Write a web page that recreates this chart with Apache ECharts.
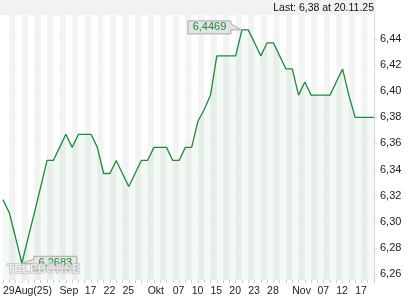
<!DOCTYPE html>
<html><head><meta charset="utf-8">
<script src="https://cdn.jsdelivr.net/npm/echarts@6/dist/echarts.min.js"></script>
<style>html,body{margin:0;padding:0;background:#fff}#c{width:420px;height:300px}</style>
</head><body><div id="c"></div>
<script>
const dates = [
 '2025-08-29',
 '2025-09-01','2025-09-02','2025-09-03','2025-09-04','2025-09-05',
 '2025-09-08','2025-09-09','2025-09-10','2025-09-11','2025-09-12',
 '2025-09-15','2025-09-16','2025-09-17','2025-09-18','2025-09-19',
 '2025-09-22','2025-09-23','2025-09-24','2025-09-25','2025-09-26',
 '2025-09-29','2025-09-30','2025-10-01','2025-10-02','2025-10-03',
 '2025-10-06','2025-10-07','2025-10-08','2025-10-09','2025-10-10',
 '2025-10-13','2025-10-14','2025-10-15','2025-10-16','2025-10-17',
 '2025-10-20','2025-10-21','2025-10-22','2025-10-23','2025-10-24',
 '2025-10-27','2025-10-28','2025-10-29','2025-10-30','2025-10-31',
 '2025-11-03','2025-11-04','2025-11-05','2025-11-06','2025-11-07',
 '2025-11-10','2025-11-11','2025-11-12','2025-11-13','2025-11-14',
 '2025-11-17','2025-11-18','2025-11-19','2025-11-20'
];
const prices = [
 6.317,
 6.307, 6.288, 6.2683, 6.288, 6.307,
 6.327, 6.347, 6.347, 6.357, 6.367,
 6.357, 6.367, 6.367, 6.367, 6.357,
 6.337, 6.337, 6.347, 6.337, 6.327,
 6.337, 6.347, 6.347, 6.357, 6.357,
 6.357, 6.347, 6.347, 6.357, 6.357,
 6.377, 6.386, 6.397, 6.427, 6.427,
 6.427, 6.427, 6.4469, 6.4469, 6.437,
 6.427, 6.437, 6.437, 6.427, 6.417,
 6.417, 6.397, 6.407, 6.397, 6.397,
 6.397, 6.397, 6.407, 6.417, 6.397,
 6.38, 6.38, 6.38, 6.38
];
const tickDates = ['2025-08-29','2025-09-11','2025-09-17','2025-09-22','2025-09-25','2025-10-01','2025-10-07','2025-10-10','2025-10-15','2025-10-20','2025-10-23','2025-10-28','2025-11-03','2025-11-07','2025-11-12','2025-11-17'];
const tickTexts = ['29Aug(25)','Sep','17','22','25','Okt','07','10','15','20','23','28','Nov','07','12','17'];
const yMin = 6.2555, yMax = 6.4583;

const FONT = '"Liberation Sans", Arial, sans-serif';
const tickMap = {};
tickDates.forEach((d, i) => { tickMap[d] = tickTexts[i]; });
const comma = (v, n) => v.toFixed(n).replace('.', ',');

const chart = echarts.init(document.getElementById('c'), null, {renderer: 'canvas'});
chart.setOption({
  animation: false,
  grid: {left: 3, right: 46, top: 15, bottom: 20},
  xAxis: {
    type: 'category', data: dates, boundaryGap: false,
    axisLine: {show: false},
    axisTick: {show: true, interval: 0, length: 3, lineStyle: {color: '#cfcfcf'}},
    axisLabel: {
      interval: (i, v) => v in tickMap,
      formatter: (v) => tickMap[v] || '',
      align: 'left', margin: 6, fontSize: 10.5, color: '#222', fontFamily: FONT
    },
    splitLine: {show: false},
    splitArea: {show: true, interval: 0, areaStyle: {color: ['#ffffff', '#f3f3f3']}}
  },
  yAxis: {
    type: 'value', position: 'right', min: yMin, max: yMax, splitNumber: 10,
    axisLine: {show: true, lineStyle: {color: '#d8d8d8'}},
    axisTick: {show: true, length: 3, lineStyle: {color: '#d8d8d8'}},
    axisLabel: {showMinLabel: false, showMaxLabel: false, formatter: v => comma(v, 2),
      margin: 6, fontSize: 11, color: '#222', fontFamily: FONT},
    splitLine: {show: true, showMinLine: false, showMaxLine: false, lineStyle: {color: '#e2e2e2'}}
  },
  series: [{
    type: 'line', data: prices, symbol: 'none',
    lineStyle: {color: '#1f8a3b', width: 1.3},
    areaStyle: {color: 'rgba(40,140,60,0.08)', origin: 'start'}
  }]
});

let maxIdx = 0, minIdx = 0;
prices.forEach((p, i) => { if (p > prices[maxIdx]) maxIdx = i; if (p < prices[minIdx]) minIdx = i; });
const last = prices.length - 1;
const ld = dates[last].split('-');
const headerText = 'Last: ' + comma(prices[last], 2) + ' at ' + ld[2] + '.' + ld[1] + '.' + ld[0].slice(2);

const pMax = chart.convertToPixel({seriesIndex: 0}, [maxIdx, prices[maxIdx]]);
const pMin = chart.convertToPixel({seriesIndex: 0}, [minIdx, prices[minIdx]]);
const gridRight = chart.convertToPixel({xAxisIndex: 0}, dates[last]);

function boxRight(tip, w, h) { // box left of tip, pointer to right
  const r = tip[0] - 11, l = r - w, t = tip[1] - 9, b = t + h;
  return {poly: [[l, t], [r, t], [r, tip[1] - 6], [tip[0] - 0.5, tip[1]], [r, tip[1]], [r, b], [l, b]], cx: (l + r) / 2, cy: (t + b) / 2};
}
function boxLeft(tip, w, h) { // box right of tip, pointer to left
  const l = tip[0] + 12, r = l + w, t = tip[1] - 7, b = t + h;
  return {poly: [[l, t], [r, t], [r, b], [l, b], [l, tip[1] + 1], [tip[0] + 0.5, tip[1]], [l, t + 3]], cx: (l + r) / 2, cy: (t + b) / 2};
}
const bMax = boxRight(pMax, 43, 13);
const bMin = boxLeft(pMin, 43, 14);

chart.setOption({
  graphic: [
    {type: 'rect', silent: true, z: 0, shape: {x: 0, y: 0, width: gridRight + 2, height: 15}, style: {fill: '#f2f2f2'}},
    {type: 'text', silent: true, z: 10, style: {text: headerText, x: gridRight, y: 8, align: 'right', verticalAlign: 'middle', font: '10.5px ' + FONT, fill: '#111'}},
    {type: 'polygon', silent: true, z: 10, shape: {points: bMax.poly}, style: {fill: '#e4e4e4', stroke: '#a8a8a8', lineWidth: 1}},
    {type: 'text', silent: true, z: 11, style: {text: comma(prices[maxIdx], 4), x: bMax.cx, y: bMax.cy, align: 'center', verticalAlign: 'middle', font: '11px ' + FONT, fill: '#1f8a3b'}},
    {type: 'polygon', silent: true, z: 10, shape: {points: bMin.poly}, style: {fill: '#e4e4e4', stroke: '#a8a8a8', lineWidth: 1}},
    {type: 'text', silent: true, z: 11, style: {text: comma(prices[minIdx], 4), x: bMin.cx, y: bMin.cy, align: 'center', verticalAlign: 'middle', font: '11px ' + FONT, fill: '#1f8a3b'}},
    {type: 'text', silent: true, z: 12, style: {text: 'TELEBÖRSE', x: 7, y: 270, align: 'left', verticalAlign: 'middle', font: 'bold 12px ' + FONT, fill: 'rgba(255,255,255,0.6)', stroke: '#b5b5b5', lineWidth: 1}}
  ]
});
</script></body></html>
